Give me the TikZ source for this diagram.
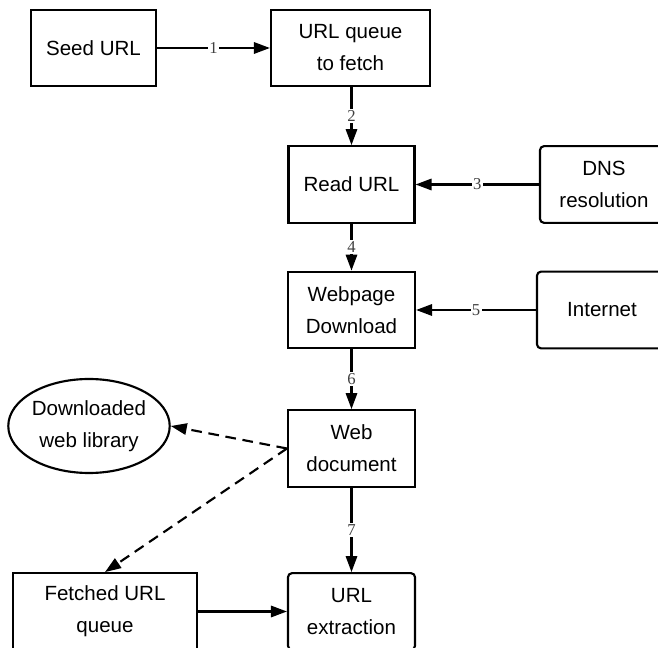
\documentclass[tikz,border=0pt]{standalone}
\usepackage{fontspec}
\setmainfont{Liberation Sans}
\newfontfamily\numfont{Liberation Serif}
\usetikzlibrary{arrows.meta,shapes.geometric}
\begin{document}
\begin{tikzpicture}[x=0.75pt,y=-0.75pt,
  box/.style={draw,line width=1.6pt,align=center,inner sep=0pt,
    font=\fontsize{15.4}{24}\selectfont,minimum height=57.5pt},
  rbox/.style={box,rounded corners=3pt},
  conn/.style={line width=1.6pt,-{Triangle[length=12pt,width=8.5pt]}},
  dconn/.style={conn,dash pattern=on 8pt off 5pt},
  num/.style={fill=white,inner sep=1pt,font=\numfont\fontsize{12.5}{12.5}\selectfont,text=black!75}]
\useasboundingbox (0,0) rectangle (658,648);
\clip (0,0) rectangle (658,648);
\node[box,minimum width=93.75pt] (seed) at (93.5,48) {Seed URL};
\node[box,minimum width=119.25pt] (queue) at (350.5,48) {URL queue\\to fetch};
\node[box,minimum width=94.5pt] (read) at (351.5,184.5) {Read URL};
\node[rbox,minimum width=96pt] (dns) at (604,184.5) {DNS\\resolution};
\node[box,minimum width=95.25pt] (wd) at (351.5,310) {Webpage\\Download};
\node[rbox,minimum width=97.5pt] (net) at (602,310) {Internet};
\node[box,minimum width=95.25pt] (doc) at (351.5,448.5) {Web\\document};
\node[draw,line width=1.6pt,ellipse,inner sep=0pt,minimum width=111pt,minimum height=70.5pt,
  align=center,font=\fontsize{15.4}{24}\selectfont] (lib) at (89,426) {Downloaded\\web library};
\node[rbox,minimum width=95.25pt] (ext) at (351.5,611.5) {URL\\extraction};
\node[box,minimum width=138pt] (fq) at (105,611.5) {Fetched URL\\queue};
\draw[conn] (seed) -- node[num]{1} (queue);
\draw[conn] (queue.south -| read.north) -- node[num,pos=0.5]{2} (read.north);
\draw[conn] (dns.west) -- node[num]{3} (read.east);
\draw[conn] (read) -- node[num]{4} (wd);
\draw[conn] (net.west) -- node[num]{5} (wd.east);
\draw[conn] (wd) -- node[num]{6} (doc);
\draw[conn] (doc) -- node[num]{7} (ext);
\draw[dconn] (doc.west) -- (lib.east);
\draw[dconn] (doc.west) -- (fq.north);
\draw[conn] (fq) -- (ext);
\end{tikzpicture}
\end{document}
